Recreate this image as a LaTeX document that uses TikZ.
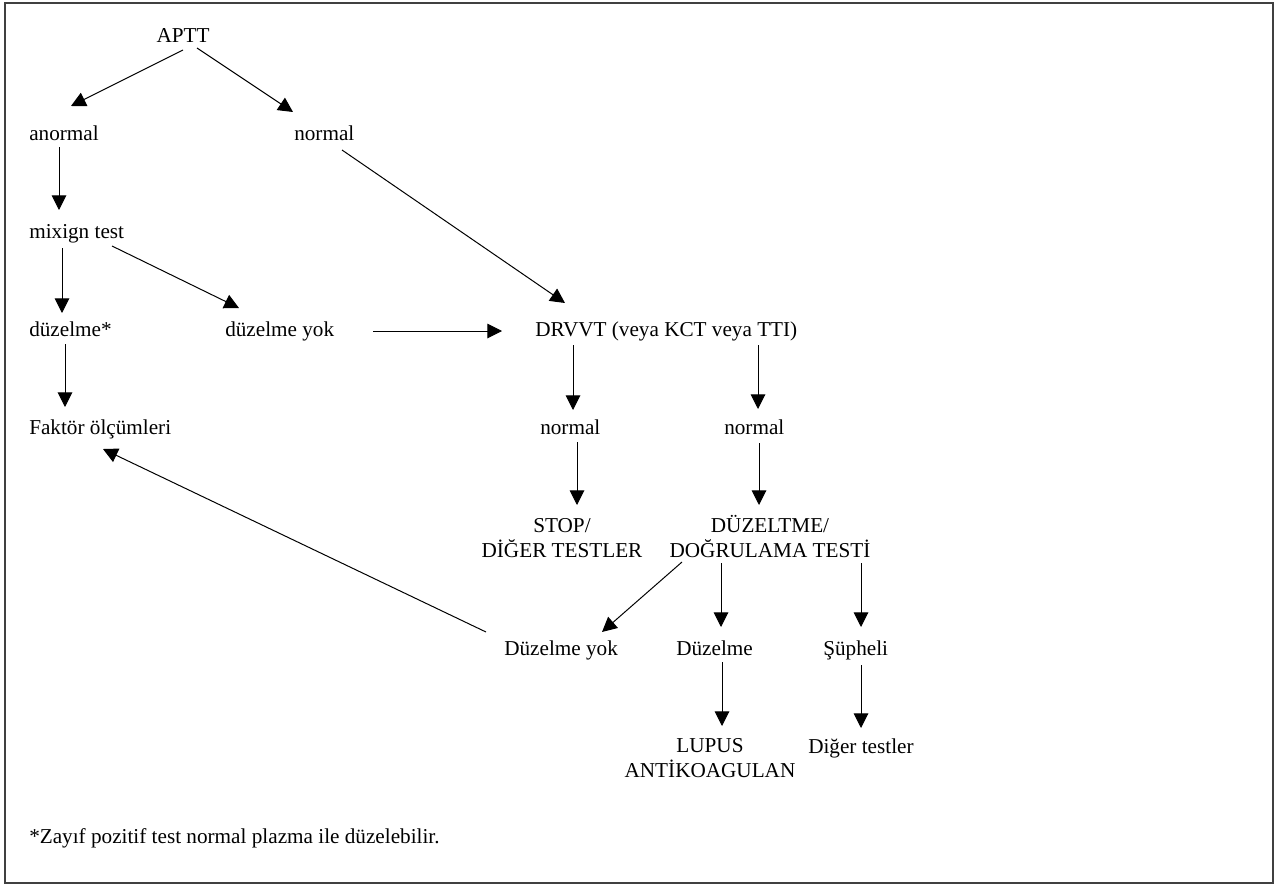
\documentclass[tikz,border=0pt]{standalone}
\usepackage{fontspec}
\setmainfont{Liberation Serif}
\usepackage{tikz}
\usetikzlibrary{arrows.meta}

\begin{document}
\begin{tikzpicture}[x=0.75pt,y=0.75pt,yscale=-1,
    every node/.style={font=\fontsize{15.9pt}{18.75pt}\selectfont},
    arr/.style={line width=0.75pt,-{Triangle[length=11pt,width=11pt]}}]
    \useasboundingbox (0,0) rectangle (1278,885); %keep the page at 1278 x 885

    %Shape: Rectangle [id:frame]
    \draw [line width=1.1pt, color={rgb, 255:red, 64; green, 64; blue, 64 }] (5,3) rectangle (1273,883);

    % Text Node
    \draw (183,42) node [anchor=base][inner sep=0.75pt] (aptt) {APTT};
    % Text Node
    \draw (28,140) node [anchor=base west][inner sep=0.75pt] (anormal) {anormal};
    % Text Node
    \draw (293,140) node [anchor=base west][inner sep=0.75pt] (normA) {normal};
    % Text Node
    \draw (28,238) node [anchor=base west][inner sep=0.75pt] (mixign) {mixign test};
    % Text Node
    \draw (28,336) node [anchor=base west][inner sep=0.75pt] (duz) {düzelme*};
    % Text Node
    \draw (224,336) node [anchor=base west][inner sep=0.75pt] (duzyok) {düzelme yok};
    % Text Node
    \draw (534,336) node [anchor=base west][inner sep=0.75pt] (drvvt) {DRVVT (veya KCT veya TTI)};
    % Text Node
    \draw (28,434) node [anchor=base west][inner sep=0.75pt] (faktor) {Faktör ölçümleri};
    % Text Node
    \draw (539,434) node [anchor=base west][inner sep=0.75pt] (normB) {normal};
    % Text Node
    \draw (723,434) node [anchor=base west][inner sep=0.75pt] (normC) {normal};
    % Text Node (base = last line)
    \draw (562,557) node [anchor=base][inner sep=0.75pt][align=center] (stop) {STOP/\\DİĞER TESTLER};
    % Text Node (base = last line)
    \draw (770,557) node [anchor=base][inner sep=0.75pt][align=center] (dogrul) {DÜZELTME/\\DOĞRULAMA TESTİ};
    % Text Node
    \draw (503,655) node [anchor=base west][inner sep=0.75pt] (duzyokB) {Düzelme yok};
    % Text Node
    \draw (675,655) node [anchor=base west][inner sep=0.75pt] (duzelme) {Düzelme};
    % Text Node
    \draw (822,655) node [anchor=base west][inner sep=0.75pt] (supheli) {Şüpheli};
    % Text Node (base = last line)
    \draw (710,777) node [anchor=base][inner sep=0.75pt][align=center] (lupus) {LUPUS\\ANTİKOAGULAN};
    % Text Node
    \draw (807,753) node [anchor=base west][inner sep=0.75pt] (diger) {Diğer testler};
    % Text Node
    \draw (28,843) node [anchor=base west][inner sep=0.75pt] (note) {*Zayıf pozitif test normal plazma ile düzelebilir.};

    %Straight Lines [id:aptt-anormal]
    \draw [arr] ([shift={(0,8)}]aptt.base) -- ([shift={(43,-34)}]anormal.base west);
    %Straight Lines [id:aptt-normal]
    \draw [arr] ([shift={(14,6)}]aptt.base) -- ([shift={(0,-28)}]normA.base west);
    %Straight Lines [id:anormal-mixign]
    \draw [arr] ([shift={(31,7)}]anormal.base west) -- ([shift={(31,-28)}]mixign.base west);
    %Straight Lines [id:mixign-duz]
    \draw [arr] ([shift={(34,10)}]mixign.base west) -- ([shift={(34,-23)}]duz.base west);
    %Straight Lines [id:mixign-duzyok]
    \draw [arr] ([shift={(84,8)}]mixign.base west) -- ([shift={(15,-28)}]duzyok.base west);
    %Straight Lines [id:duz-faktor]
    \draw [arr] ([shift={(37,8)}]duz.base west) -- ([shift={(37,-27)}]faktor.base west);
    %Straight Lines [id:normal-drvvt]
    \draw [arr] ([shift={(49,10)}]normA.base west) -- ([shift={(31,-33)}]drvvt.base west);
    %Straight Lines [id:duzyok-drvvt]
    \draw [arr] ([shift={(149,-5)}]duzyok.base west) -- ([shift={(-32,-5)}]drvvt.base west);
    %Straight Lines [id:drvvt-normB]
    \draw [arr] ([shift={(39,9)}]drvvt.base west) -- ([shift={(34,-24)}]normB.base west);
    %Straight Lines [id:drvvt-normC]
    \draw [arr] ([shift={(224,9)}]drvvt.base west) -- ([shift={(35,-25)}]normC.base west);
    %Straight Lines [id:normB-stop]
    \draw [arr] ([shift={(38,8)}]normB.base west) -- ([shift={(15,-52)}]stop.base);
    %Straight Lines [id:normC-dogrul]
    \draw [arr] ([shift={(36,9)}]normC.base west) -- ([shift={(-11,-52)}]dogrul.base);
    %Straight Lines [id:dogrul-duzyokB]
    \draw [arr] ([shift={(-88,5)}]dogrul.base) -- ([shift={(99,-23)}]duzyokB.base west);
    %Straight Lines [id:dogrul-duzelme]
    \draw [arr] ([shift={(-49,6)}]dogrul.base) -- ([shift={(46,-28)}]duzelme.base west);
    %Straight Lines [id:dogrul-supheli]
    \draw [arr] ([shift={(91,6)}]dogrul.base) -- ([shift={(39,-28)}]supheli.base west);
    %Straight Lines [id:duzyokB-faktor]
    \draw [arr] ([shift={(-17,-23)}]duzyokB.base west) -- ([shift={(75,15)}]faktor.base west);
    %Straight Lines [id:duzelme-lupus]
    \draw [arr] ([shift={(47,7)}]duzelme.base west) -- ([shift={(12,-51)}]lupus.base);
    %Straight Lines [id:supheli-diger]
    \draw [arr] ([shift={(39,10)}]supheli.base west) -- ([shift={(54,-25)}]diger.base west);
\end{tikzpicture}
\end{document}
